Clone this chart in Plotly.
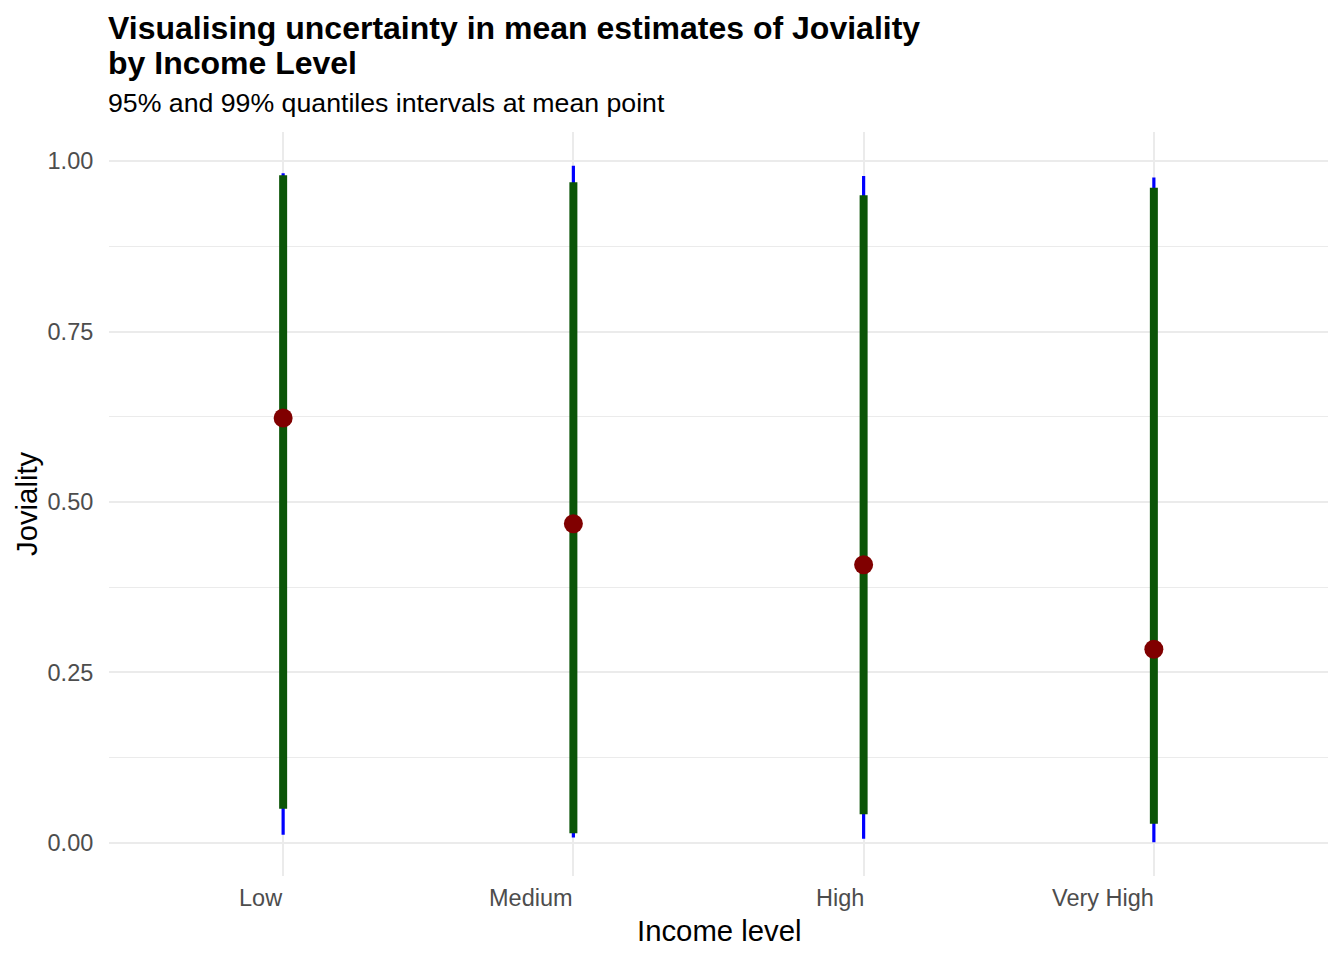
import plotly.graph_objects as go

income = ["Low", "Medium", "High", "Very High"]
mean_val = [0.623, 0.468, 0.408, 0.284]
lo95 = [0.050, 0.014, 0.042, 0.028]
hi95 = [0.979, 0.969, 0.950, 0.961]
lo99 = [0.012, 0.008, 0.006, 0.001]
hi99 = [0.982, 0.993, 0.978, 0.976]
y_ticks = [0.0, 0.25, 0.5, 0.75, 1.0]
y_tick_text = ["0.00", "0.25", "0.50", "0.75", "1.00"]

FONT = "Liberation Sans, Arial, Helvetica, sans-serif"


def segs(cats, lo, hi):
    xs, ys = [], []
    for c, a, b in zip(cats, lo, hi):
        xs += [c, c, None]
        ys += [a, b, None]
    return xs, ys


fig = go.Figure()
x99, y99 = segs(income, lo99, hi99)
fig.add_trace(go.Scatter(x=x99, y=y99, mode="lines",
                         line=dict(color="#0000FF", width=3.2),
                         showlegend=False, hoverinfo="skip"))
x95, y95 = segs(income, lo95, hi95)
fig.add_trace(go.Scatter(x=x95, y=y95, mode="lines",
                         line=dict(color="#0B5507", width=8),
                         showlegend=False, hoverinfo="skip"))
fig.add_trace(go.Scatter(x=income, y=mean_val, mode="markers",
                         marker=dict(color="#800000", size=19,
                                     line=dict(width=0)),
                         showlegend=False))

annotations = []
for c in income:
    annotations.append(dict(x=c, xref="x", y=0, yref="paper",
                            text=c, showarrow=False, xanchor="right",
                            yanchor="middle", yshift=-22, xshift=2,
                            font=dict(family=FONT, size=23.5, color="#4D4D4D")))
annotations += [
    dict(x=0, xref="paper", y=1, yref="paper", xanchor="left", yanchor="middle",
         yshift=104, xshift=-3,
         text="<b>Visualising uncertainty in mean estimates of Joviality</b>",
         showarrow=False, font=dict(family=FONT, size=32, color="black")),
    dict(x=0, xref="paper", y=1, yref="paper", xanchor="left", yanchor="middle",
         yshift=69, xshift=-3, text="<b>by Income Level</b>",
         showarrow=False, font=dict(family=FONT, size=32, color="black")),
    dict(x=0, xref="paper", y=1, yref="paper", xanchor="left", yanchor="middle",
         yshift=29, xshift=-3, text="95% and 99% quantiles intervals at mean point",
         showarrow=False, font=dict(family=FONT, size=26.7, color="black")),
    dict(x=0.5, xref="paper", y=0, yref="paper", xanchor="center", yanchor="middle",
         yshift=-54, text="Income level",
         showarrow=False, font=dict(family=FONT, size=29.3, color="black")),
    dict(x=0, xref="paper", y=0.5, yref="paper", xanchor="center", yanchor="middle",
         xshift=-83, text="Joviality", textangle=-90,
         showarrow=False, font=dict(family=FONT, size=29.3, color="black")),
]

fig.update_layout(
    width=1344, height=960,
    margin=dict(l=109, r=16, t=132, b=84),
    paper_bgcolor="white", plot_bgcolor="white",
    font=dict(family=FONT),
    annotations=annotations,
    hovermode=False,
    xaxis=dict(type="category", categoryorder="array", categoryarray=income,
               range=[-0.6, 3.6], showgrid=True, gridcolor="#EBEBEB", gridwidth=2,
               showticklabels=False, zeroline=False, showline=False, ticks=""),
    yaxis=dict(range=[-0.0486, 1.0426], tickvals=y_ticks, ticktext=y_tick_text,
               showgrid=True, gridcolor="#EBEBEB", gridwidth=2,
               minor=dict(tickvals=[0.125, 0.375, 0.625, 0.875], showgrid=True,
                          gridcolor="#EBEBEB", gridwidth=1),
               zeroline=False, showline=False, ticks="outside", ticklen=10,
               tickcolor="rgba(0,0,0,0)",
               tickfont=dict(family=FONT, size=23.5, color="#4D4D4D")),
)

fig.write_html("out.html", config={"displayModeBar": False},
               post_script="document.body.style.margin='0';document.body.style.overflow='hidden';")
